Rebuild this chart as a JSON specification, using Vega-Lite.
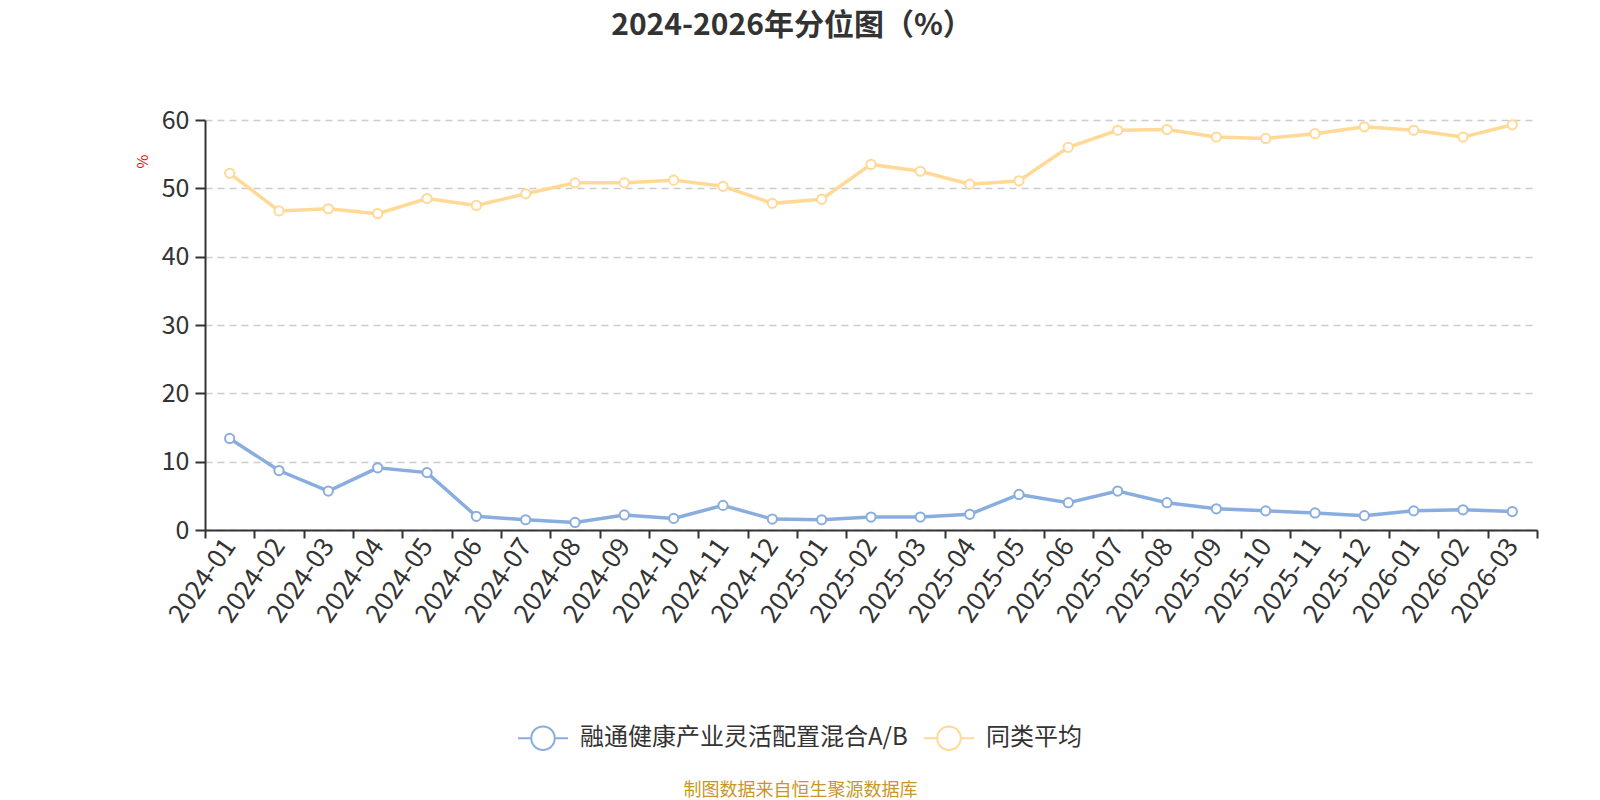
{
  "$schema": "https://vega.github.io/schema/vega-lite/v6.json",
  "width": 1332,
  "height": 410,
  "autosize": {"type": "none"},
  "padding": {"left": 205, "top": 120, "right": 63, "bottom": 270},
  "background": "white",
  "config": {
    "font": "Noto Sans CJK SC",
    "view": {"stroke": null}
  },
  "title": {
    "text": "2024-2026年分位图（%）",
    "fontSize": 30,
    "fontWeight": "bold",
    "color": "#333333",
    "anchor": "middle",
    "dx": -79,
    "offset": 67
  },
  "data": {
    "values": [
      {"month": "2024-01", "series": "融通健康产业灵活配置混合A/B", "value": 13.4},
      {"month": "2024-02", "series": "融通健康产业灵活配置混合A/B", "value": 8.7},
      {"month": "2024-03", "series": "融通健康产业灵活配置混合A/B", "value": 5.7},
      {"month": "2024-04", "series": "融通健康产业灵活配置混合A/B", "value": 9.1},
      {"month": "2024-05", "series": "融通健康产业灵活配置混合A/B", "value": 8.4},
      {"month": "2024-06", "series": "融通健康产业灵活配置混合A/B", "value": 2.0},
      {"month": "2024-07", "series": "融通健康产业灵活配置混合A/B", "value": 1.5},
      {"month": "2024-08", "series": "融通健康产业灵活配置混合A/B", "value": 1.1},
      {"month": "2024-09", "series": "融通健康产业灵活配置混合A/B", "value": 2.2},
      {"month": "2024-10", "series": "融通健康产业灵活配置混合A/B", "value": 1.7},
      {"month": "2024-11", "series": "融通健康产业灵活配置混合A/B", "value": 3.6},
      {"month": "2024-12", "series": "融通健康产业灵活配置混合A/B", "value": 1.6},
      {"month": "2025-01", "series": "融通健康产业灵活配置混合A/B", "value": 1.5},
      {"month": "2025-02", "series": "融通健康产业灵活配置混合A/B", "value": 1.9},
      {"month": "2025-03", "series": "融通健康产业灵活配置混合A/B", "value": 1.9},
      {"month": "2025-04", "series": "融通健康产业灵活配置混合A/B", "value": 2.3},
      {"month": "2025-05", "series": "融通健康产业灵活配置混合A/B", "value": 5.2},
      {"month": "2025-06", "series": "融通健康产业灵活配置混合A/B", "value": 4.0},
      {"month": "2025-07", "series": "融通健康产业灵活配置混合A/B", "value": 5.7},
      {"month": "2025-08", "series": "融通健康产业灵活配置混合A/B", "value": 4.0},
      {"month": "2025-09", "series": "融通健康产业灵活配置混合A/B", "value": 3.1},
      {"month": "2025-10", "series": "融通健康产业灵活配置混合A/B", "value": 2.8},
      {"month": "2025-11", "series": "融通健康产业灵活配置混合A/B", "value": 2.5},
      {"month": "2025-12", "series": "融通健康产业灵活配置混合A/B", "value": 2.1},
      {"month": "2026-01", "series": "融通健康产业灵活配置混合A/B", "value": 2.8},
      {"month": "2026-02", "series": "融通健康产业灵活配置混合A/B", "value": 2.95},
      {"month": "2026-03", "series": "融通健康产业灵活配置混合A/B", "value": 2.7},
      {"month": "2024-01", "series": "同类平均", "value": 52.2},
      {"month": "2024-02", "series": "同类平均", "value": 46.7},
      {"month": "2024-03", "series": "同类平均", "value": 47.0},
      {"month": "2024-04", "series": "同类平均", "value": 46.3},
      {"month": "2024-05", "series": "同类平均", "value": 48.5},
      {"month": "2024-06", "series": "同类平均", "value": 47.5},
      {"month": "2024-07", "series": "同类平均", "value": 49.2},
      {"month": "2024-08", "series": "同类平均", "value": 50.8},
      {"month": "2024-09", "series": "同类平均", "value": 50.8},
      {"month": "2024-10", "series": "同类平均", "value": 51.2},
      {"month": "2024-11", "series": "同类平均", "value": 50.3},
      {"month": "2024-12", "series": "同类平均", "value": 47.8},
      {"month": "2025-01", "series": "同类平均", "value": 48.4},
      {"month": "2025-02", "series": "同类平均", "value": 53.5},
      {"month": "2025-03", "series": "同类平均", "value": 52.5},
      {"month": "2025-04", "series": "同类平均", "value": 50.6},
      {"month": "2025-05", "series": "同类平均", "value": 51.1},
      {"month": "2025-06", "series": "同类平均", "value": 56.0},
      {"month": "2025-07", "series": "同类平均", "value": 58.5},
      {"month": "2025-08", "series": "同类平均", "value": 58.6},
      {"month": "2025-09", "series": "同类平均", "value": 57.5},
      {"month": "2025-10", "series": "同类平均", "value": 57.3},
      {"month": "2025-11", "series": "同类平均", "value": 58.0},
      {"month": "2025-12", "series": "同类平均", "value": 59.0},
      {"month": "2026-01", "series": "同类平均", "value": 58.5},
      {"month": "2026-02", "series": "同类平均", "value": 57.5},
      {"month": "2026-03", "series": "同类平均", "value": 59.3}
    ]
  },
  "encoding": {
    "x": {
      "field": "month",
      "type": "ordinal",
      "scale": {"paddingInner": 0, "paddingOuter": 0},
      "axis": {
        "title": "制图数据来自恒生聚源数据库",
        "titleFontSize": 18,
        "titleFontWeight": "normal",
        "titleColor": "#c8962a",
        "titleX": 595,
        "titleY": 260,
        "titleAlign": "center",
        "titleBaseline": "middle",
        "labelAngle": -55,
        "labelFontSize": 26,
        "labelColor": "#333333",
        "labelPadding": 3,
        "tickBand": "extent",
        "tickSize": 8,
        "tickWidth": 2,
        "tickColor": "#333333",
        "domainColor": "#333333",
        "domainWidth": 2,
        "grid": false
      }
    },
    "y": {
      "field": "value",
      "type": "quantitative",
      "scale": {"domain": [0, 60], "nice": false},
      "axis": {
        "title": "%",
        "titleColor": "red",
        "titleFontSize": 15,
        "titleFontWeight": "normal",
        "titleX": -63,
        "titleY": 41,
        "titleAlign": "center",
        "titleBaseline": "middle",
        "values": [0, 10, 20, 30, 40, 50, 60],
        "labelFontSize": 25,
        "labelColor": "#333333",
        "labelPadding": 6,
        "tickSize": 10,
        "tickWidth": 2,
        "tickColor": "#333333",
        "domainColor": "#333333",
        "domainWidth": 2,
        "grid": true,
        "gridColor": "#cccccc",
        "gridWidth": 1.5,
        "gridDash": [7, 5]
      }
    },
    "color": {
      "field": "series",
      "type": "nominal",
      "scale": {
        "domain": ["融通健康产业灵活配置混合A/B", "同类平均"],
        "range": ["#8aaddf", "#ffd995"]
      },
      "legend": {
        "title": null,
        "orient": "none",
        "direction": "horizontal",
        "legendX": 312,
        "legendY": 592,
        "symbolType": "M-1,0L-0.47,0M0.47,0L1,0M-0.47,0A0.47,0.47,0,1,1,0.47,0A0.47,0.47,0,1,1,-0.47,0Z",
        "symbolSize": 2500,
        "symbolStrokeWidth": 2,
        "symbolFillColor": "white",
        "labelFontSize": 24,
        "labelLimit": 0,
        "labelColor": "#333333",
        "labelOffset": 11,
        "columnPadding": 12
      }
    }
  },
  "layer": [
    {"mark": {"type": "line", "strokeWidth": 3.5}},
    {"mark": {"type": "point", "shape": "circle", "filled": false, "fill": "white", "size": 85, "strokeWidth": 2, "opacity": 1}}
  ]
}
